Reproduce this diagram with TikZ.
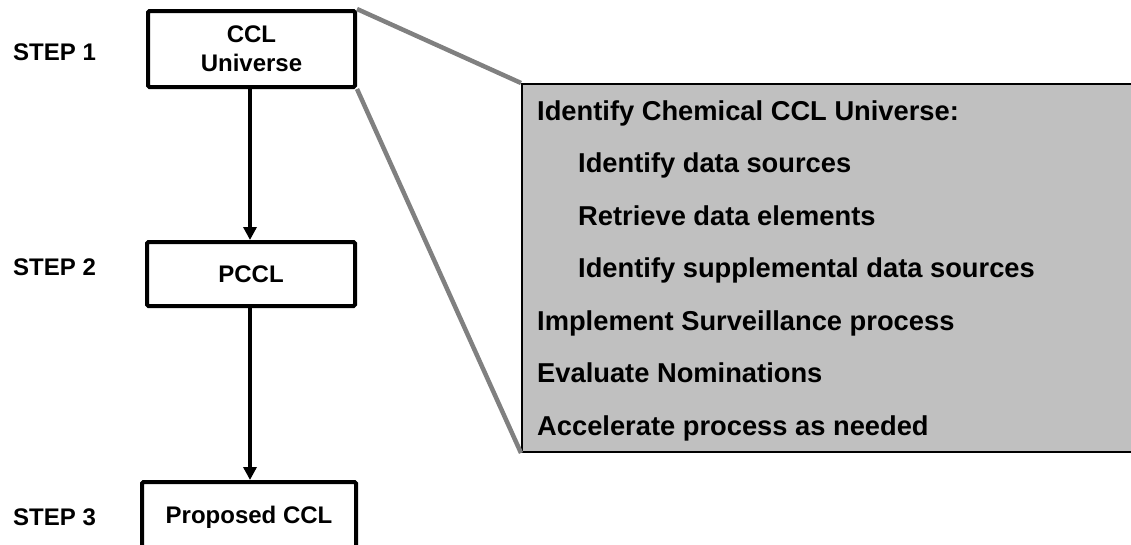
\documentclass[tikz,border=0pt]{standalone}
\usepackage{fontspec}
\setmainfont{Liberation Sans}
\usetikzlibrary{arrows.meta}
\definecolor{panelgray}{HTML}{C0C0C0}
\definecolor{linkgray}{HTML}{808080}
\begin{document}
\begin{tikzpicture}[x=1pt,y=-1pt,
  stepbox/.style={draw=black, line width=4pt, rounded corners=1.5pt, fill=white, align=center,
    font=\fontsize{24}{29}\selectfont\bfseries, inner sep=0pt},
  steplabel/.style={anchor=west, font=\fontsize{24}{26}\selectfont\bfseries, inner sep=0pt},
  flow/.style={line width=4pt, -{Triangle[width=13pt,length=13pt]}},
  link/.style={draw=linkgray, line width=4.5pt},
  panel/.style={draw=black, line width=2pt, fill=panelgray, anchor=north west, inner sep=0pt},
  paneltext/.style={anchor=base west, font=\fontsize{27.3}{30}\selectfont\bfseries, inner sep=0pt}
]
\useasboundingbox (0,0) rectangle (1131,544);
\clip (0,0) rectangle (1131,544);

% panel
\node[panel, minimum width=640pt, minimum height=368pt] (info) at (521,83) {};
\node[paneltext] (l1) at (537,120) {Identify Chemical CCL Universe:};
\node[paneltext] (l2) at (578,172) {Identify data sources};
\node[paneltext] (l3) at (578,225) {Retrieve data elements};
\node[paneltext] (l4) at (578,277) {Identify supplemental data sources};
\node[paneltext] (l5) at (537,330) {Implement Surveillance process};
\node[paneltext] (l6) at (537,382) {Evaluate Nominations};
\node[paneltext] (l7) at (537,435) {Accelerate process as needed};

% boxes
\node[stepbox, minimum width=207pt, minimum height=76pt] (b1) at (251.5,49) {CCL\\Universe};
\node[stepbox, minimum width=208pt, minimum height=64pt] (b2) at (251,274) {PCCL};
\node[stepbox, minimum width=214pt, minimum height=70pt] (b3) at (249,517) {Proposed CCL};

% step labels
\node[steplabel] (s1) at (13,52) {STEP 1};
\node[steplabel] (s2) at (13,267) {STEP 2};
\node[steplabel] (s3) at (13,517) {STEP 3};

% links to panel
\draw[link] (b1.north east) -- (info.north west);
\draw[link] (b1.south east) -- (info.south west);

% flow arrows
\draw[flow] (b1.south -| 250,0) -- (b2.north -| 250,0);
\draw[flow] (b2.south -| 250,0) -- (b3.north -| 250,0);
\end{tikzpicture}
\end{document}
